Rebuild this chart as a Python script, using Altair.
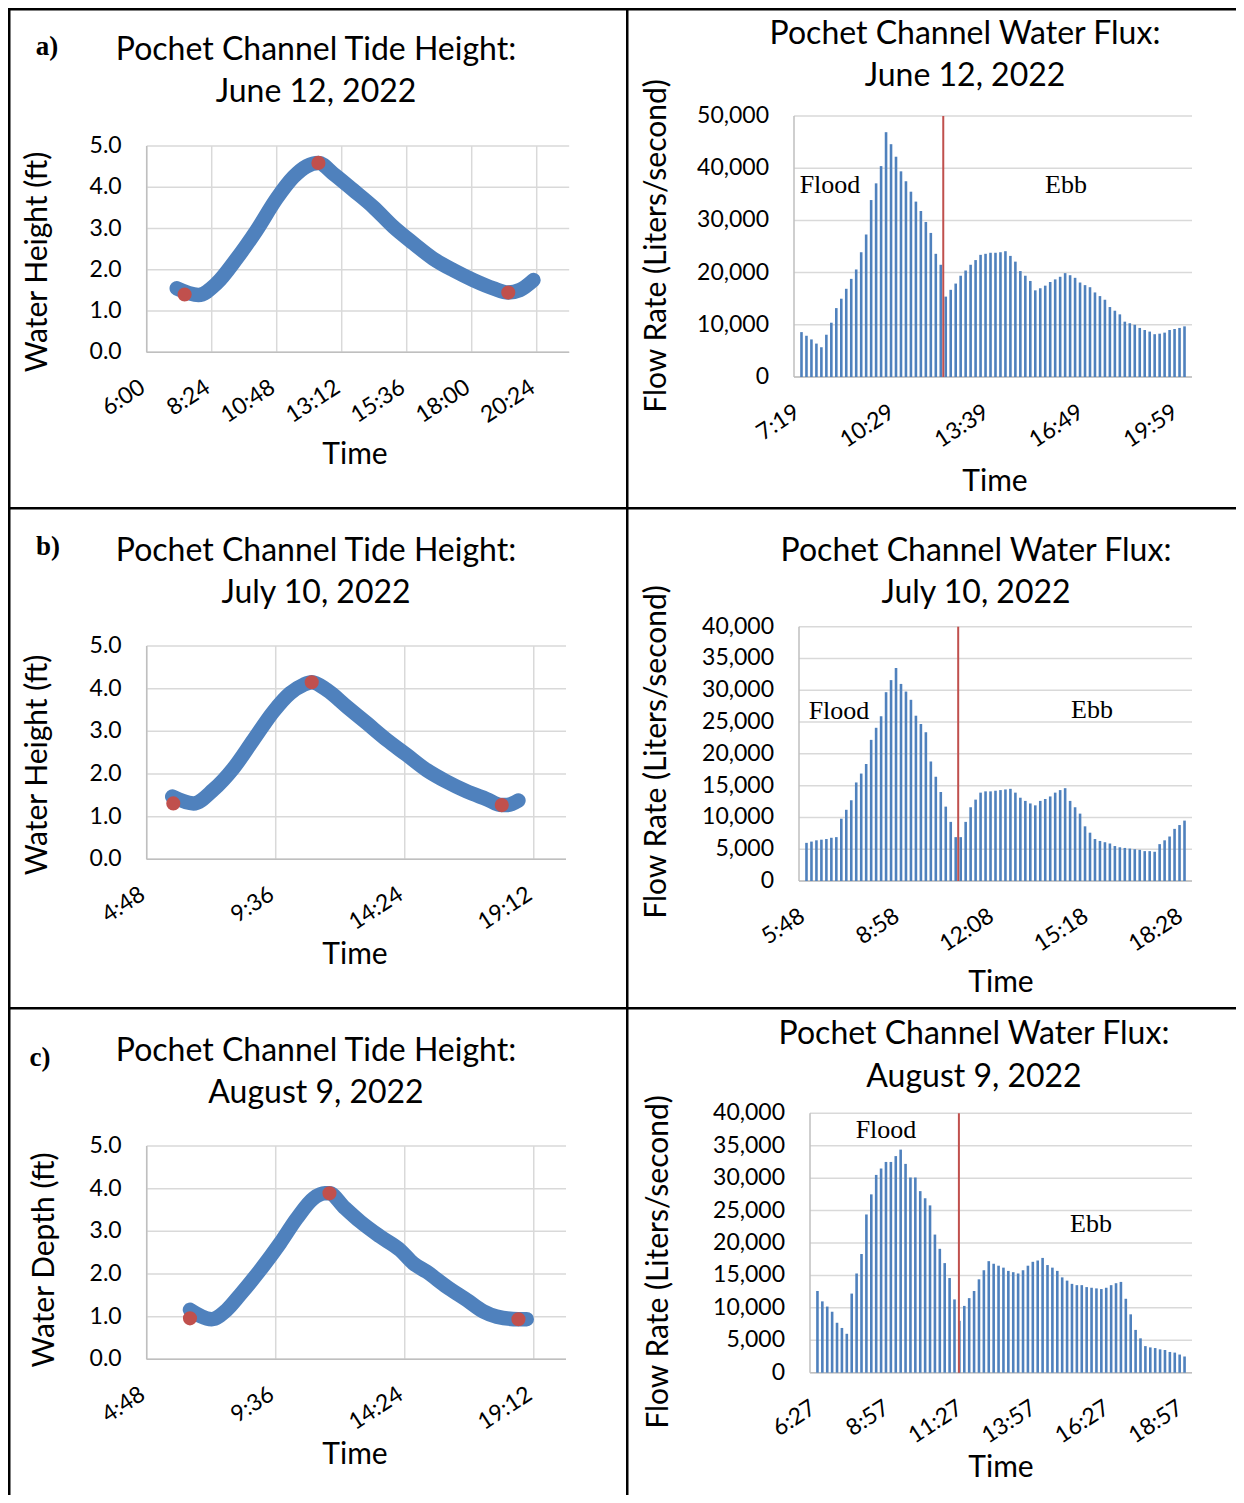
import altair as alt
import pandas as pd

FONT = "Lato"
SERIF = "Liberation Serif"
BLUE = "#4F81BD"
RED = "#C0504D"
GRID = "#D9D9D9"
AXISC = "#BFBFBF"

# ---------------- data ----------------
dates = ["June 12, 2022", "July 10, 2022", "August 9, 2022"]
letters = ["a)", "b)", "c)"]
tide_ytitles = ["Water Height (ft)", "Water Height (ft)", "Water Depth (ft)"]

# tide height (time in decimal hours, height in ft)
tide_a_time = [7.11, 7.91, 8.58, 9.32, 10.06, 10.80, 11.42, 11.91, 12.34, 12.89, 13.63,
               14.37, 15.11, 15.85, 16.58, 17.32, 18.06, 18.80, 19.35, 19.78, 20.28]
tide_a_height = [1.55, 1.39, 1.67, 2.27, 2.96, 3.73, 4.25, 4.51, 4.59, 4.33, 3.93,
                 3.52, 3.04, 2.64, 2.27, 1.99, 1.75, 1.55, 1.45, 1.51, 1.75]
tide_a_ext_time = [7.40, 12.34, 19.35]
tide_a_ext_height = [1.40, 4.59, 1.45]

tide_b_time = [5.75, 6.54, 7.28, 8.02, 8.77, 9.51, 10.13, 10.63, 10.94, 11.50, 12.24,
               12.99, 13.73, 14.47, 15.22, 15.96, 16.71, 17.45, 18.01, 18.19, 18.63]
tide_b_height = [1.47, 1.31, 1.63, 2.13, 2.80, 3.46, 3.89, 4.09, 4.15, 3.97, 3.58,
                 3.19, 2.80, 2.45, 2.09, 1.82, 1.59, 1.41, 1.27, 1.27, 1.38]
tide_b_ext_time = [5.79, 10.94, 18.01]
tide_b_ext_height = [1.31, 4.15, 1.27]

tide_c_time = [6.41, 7.22, 7.78, 8.27, 9.02, 9.76, 10.38, 11.00, 11.43, 11.60, 12.12,
               12.74, 13.48, 14.23, 14.72, 15.22, 15.96, 16.71, 17.33, 17.82, 18.63, 18.94]
tide_c_height = [1.16, 0.94, 1.16, 1.51, 2.09, 2.72, 3.30, 3.77, 3.89, 3.89, 3.58,
                 3.23, 2.88, 2.56, 2.25, 2.05, 1.70, 1.39, 1.12, 1.00, 0.94, 0.94]
tide_c_ext_time = [6.41, 11.60, 18.63]
tide_c_ext_height = [0.96, 3.89, 0.94]

tide_a_ticks = [6.0, 8.4, 10.8, 13.2, 15.6, 18.0, 20.4]
tide_a_labels = ["6:00", "8:24", "10:48", "13:12", "15:36", "18:00", "20:24"]
tide_a_domain = [6.0, 21.6]
tide_bc_ticks = [4.8, 9.6, 14.4, 19.2]
tide_bc_labels = ["4:48", "9:36", "14:24", "19:12"]
tide_bc_domain = [4.8, 20.4]
tide_y_ticks = [0, 1, 2, 3, 4, 5]
tide_y_labels = ["0.0", "1.0", "2.0", "3.0", "4.0", "5.0"]

# water flux (liters / second), one bar per 10-minute interval
flux_a = [8600, 7900, 7200, 6400, 5700, 8100, 10400, 13200, 15000, 16900,
          18800, 20600, 23900, 27300, 33900, 37100, 40400, 46900, 44600, 42200,
          39400, 37500, 35500, 33600, 31800, 29700, 27600, 23600, 21500, 15400,
          16700, 17900, 19400, 20400, 21500, 22400, 23400, 23600, 23800, 23800,
          23900, 24100, 23200, 22100, 20300, 19400, 18400, 16600, 17000, 17500,
          18200, 18700, 19200, 19900, 19500, 19000, 18100, 17600, 17200, 16200,
          15500, 14800, 13400, 12700, 12000, 10600, 10300, 10000, 9400, 9000,
          8700, 8200, 8300, 8500, 9000, 9200, 9400, 9700]
flux_b = [6000, 6200, 6400, 6500, 6600, 6800, 6900, 9800, 11200, 12700,
          15500, 16900, 18400, 22200, 24100, 25900, 29700, 31600, 33500, 31000,
          29800, 28500, 26000, 24700, 23400, 18800, 16400, 14000, 11700, 9300,
          6900, 6900, 9300, 11600, 12800, 13900, 14100, 14100, 14200, 14300,
          14400, 14500, 13900, 13100, 12600, 12200, 11900, 12600, 12900, 13300,
          13900, 14300, 14600, 12600, 11600, 10600, 8600, 7600, 6600, 6300,
          6100, 5900, 5500, 5300, 5200, 5100, 5000, 4900, 4700, 4700,
          4600, 5800, 6400, 7000, 8200, 8800, 9500]
flux_c = [12600, 11000, 10200, 9400, 7700, 6900, 6000, 12200, 15300, 18300,
          24400, 27500, 30500, 31500, 32500, 32500, 33400, 34400, 32200, 30100,
          30100, 28000, 26900, 25800, 21300, 19100, 16900, 14600, 11300, 8000,
          10300, 11500, 12600, 14400, 15800, 17200, 16800, 16500, 16200, 15700,
          15500, 15300, 15800, 16500, 17100, 17300, 17700, 16600, 16200, 15700,
          14700, 14200, 13700, 13500, 13500, 13200, 13100, 13000, 12900, 13100,
          13500, 13800, 14000, 11400, 9000, 6600, 5300, 4100, 3900, 3800,
          3600, 3500, 3200, 3100, 2800, 2500]
flux_split = [28.5, 30.5, 28.9]          # flood / ebb boundary (bar index)
flux_a_yticks = [0, 10000, 20000, 30000, 40000, 50000]
flux_a_ylabels = ["0", "10,000", "20,000", "30,000", "40,000", "50,000"]
flux_bc_yticks = [0, 5000, 10000, 15000, 20000, 25000, 30000, 35000, 40000]
flux_bc_ylabels = ["0", "5,000", "10,000", "15,000", "20,000", "25,000", "30,000", "35,000", "40,000"]
flux_a_ticks = [0, 19, 38, 57, 76]
flux_a_labels = ["7:19", "10:29", "13:39", "16:49", "19:59"]
flux_b_ticks = [0, 19, 38, 57, 76]
flux_b_labels = ["5:48", "8:58", "12:08", "15:18", "18:28"]
flux_c_ticks = [0, 15, 30, 45, 60, 75]
flux_c_labels = ["6:27", "8:57", "11:27", "13:57", "16:27", "18:57"]

# ---------------- layout (pixels, cell-local) ----------------
COLW = [618, 610]
ROWH = [499, 500, 488]
LEFT_LAYOUT = [
    dict(x0=138.7, x1=561.2, yb=344.3, yt=138, letter=(39, 39), tx=308, ty=(42, 84), yt_xy=(30, 254), xt_xy=(347, 447)),
    dict(x0=138.7, x1=558.0, yb=352.3, yt=139, letter=(40, 40), tx=308, ty=(44, 86), yt_xy=(30, 258), xt_xy=(347, 448)),
    dict(x0=138.7, x1=558.0, yb=352.3, yt=139, letter=(32, 51), tx=308, ty=(44, 86), yt_xy=(37, 253), xt_xy=(347, 448)),
]
RIGHT_LAYOUT = [
    dict(x0=168, x1=566, yb=369.0, yt=108.0, tx=339, ty=(26, 68), yt_xy=(31, 238), xt_xy=(369, 474), flood=(204, 177), ebb=(440, 177)),
    dict(x0=173, x1=566, yb=374.0, yt=119.7, tx=350, ty=(44, 86), yt_xy=(31, 245), xt_xy=(375, 476), flood=(213, 204), ebb=(466, 203)),
    dict(x0=184, x1=566, yb=365.7, yt=106.3, tx=348, ty=(27, 70), yt_xy=(33, 255), xt_xy=(375, 461), flood=(260, 123), ebb=(465, 217)),
]
TICK_FS, TITLE_FS, AXT_FS = 23, 32, 30
XLAB_PAD, YLAB_PAD, XLAB_ANGLE = 39, 25, 327

ONE = pd.DataFrame({"k": [0]})


def text(txt, x, y, size, font=FONT, weight="normal", angle=0):
    return alt.Chart(ONE).mark_text(
        font=font, fontSize=size, fontWeight=weight, align="center",
        baseline="middle", color="black", angle=angle
    ).encode(x=alt.value(x), y=alt.value(y), text=alt.value(txt))


def frame(W, H):
    extent = alt.Chart(ONE).mark_rect(opacity=0).encode(
        x=alt.value(0), x2=alt.value(W), y=alt.value(0), y2=alt.value(H))
    left = alt.Chart(ONE).mark_rect(color="black").encode(
        x=alt.value(0), x2=alt.value(2.5), y=alt.value(0), y2=alt.value(H))
    top = alt.Chart(ONE).mark_rect(color="black").encode(
        x=alt.value(0), x2=alt.value(W), y=alt.value(0), y2=alt.value(2.5))
    return [extent, left, top]


def axes(L, xs, ys, xticks, xlabels, yticks, ylabels, ytitle, xgrid):
    layers = []
    ydf = pd.DataFrame({"v": yticks, "lab": ylabels})
    xdf = pd.DataFrame({"v": xticks, "lab": xlabels})
    layers.append(alt.Chart(ydf).mark_rule(color=GRID, strokeWidth=1.5).encode(
        y=alt.Y("v:Q", scale=ys, axis=None), x=alt.value(L["x0"]), x2=alt.value(L["x1"])))
    if xgrid:
        layers.append(alt.Chart(xdf).mark_rule(color=GRID, strokeWidth=1.5).encode(
            x=alt.X("v:Q", scale=xs, axis=None), y=alt.value(L["yt"]), y2=alt.value(L["yb"])))
    layers.append(alt.Chart(ONE).mark_rule(color=AXISC, strokeWidth=1.5).encode(
        x=alt.value(L["x0"]), y=alt.value(L["yt"]), y2=alt.value(L["yb"])))
    layers.append(alt.Chart(ONE).mark_rule(color=AXISC, strokeWidth=1.5).encode(
        y=alt.value(L["yb"]), x=alt.value(L["x0"]), x2=alt.value(L["x1"])))
    layers.append(alt.Chart(ydf).mark_text(
        font=FONT, fontSize=TICK_FS, align="right", baseline="middle", color="black"
    ).encode(y=alt.Y("v:Q", scale=ys, axis=None), x=alt.value(L["x0"] - YLAB_PAD), text="lab:N"))
    layers.append(alt.Chart(xdf).mark_text(
        font=FONT, fontSize=TICK_FS, align="right", baseline="alphabetic", color="black",
        angle=XLAB_ANGLE
    ).encode(x=alt.X("v:Q", scale=xs, axis=None), y=alt.value(L["yb"] + XLAB_PAD), text="lab:N"))
    layers.append(text("Time", L["xt_xy"][0], L["xt_xy"][1], AXT_FS))
    layers.append(text(ytitle, L["yt_xy"][0], L["yt_xy"][1], AXT_FS, angle=270))
    return layers


def tide_panel(i, t, h, et, eh, dom, ticks, labels):
    L = LEFT_LAYOUT[i]
    W, H = COLW[0], ROWH[i]
    xs = alt.Scale(domain=dom, range=[L["x0"], L["x1"]], nice=False, zero=False)
    ys = alt.Scale(domain=[0, 5], range=[L["yb"], L["yt"]], nice=False, zero=False)
    df = pd.DataFrame({"t": t, "h": h})
    ext = pd.DataFrame({"t": et, "h": eh})

    line = alt.Chart(df).mark_line(
        color=BLUE, strokeWidth=14.5, strokeCap="round", strokeJoin="round",
        interpolate="monotone"
    ).encode(x=alt.X("t:Q", scale=xs, axis=None), y=alt.Y("h:Q", scale=ys, axis=None))
    pts = alt.Chart(ext).mark_circle(color=RED, size=200, opacity=1).encode(
        x=alt.X("t:Q", scale=xs, axis=None), y=alt.Y("h:Q", scale=ys, axis=None))
    layers = frame(W, H) + axes(L, xs, ys, ticks, labels, tide_y_ticks, tide_y_labels,
                                tide_ytitles[i], True) + [
        line, pts,
        text(letters[i], L["letter"][0], L["letter"][1], 27, font=SERIF, weight="bold"),
        text("Pochet Channel Tide Height:", L["tx"], L["ty"][0], TITLE_FS),
        text(dates[i], L["tx"], L["ty"][1], TITLE_FS)]
    return alt.layer(*layers).properties(width=W, height=H)


def flux_panel(i, vals, ticks, labels, yticks, ylabels):
    L = RIGHT_LAYOUT[i]
    W, H = COLW[1], ROWH[i]
    n = len(vals)
    ymax = yticks[-1]
    xs = alt.Scale(domain=[-0.5, n - 0.5], range=[L["x0"], L["x1"]], nice=False, zero=False)
    ys = alt.Scale(domain=[0, ymax], range=[L["yb"], L["yt"]], nice=False, zero=False)
    df = pd.DataFrame({"i": list(range(n)), "q": vals})
    split_df = pd.DataFrame({"s": [flux_split[i]], "lo": [0], "hi": [ymax]})

    bars = alt.Chart(df).mark_bar(size=2.6, color=BLUE).encode(
        x=alt.X("i:Q", scale=xs, axis=None), y=alt.Y("q:Q", scale=ys, axis=None))
    split = alt.Chart(split_df).mark_rule(color=RED, strokeWidth=2).encode(
        x=alt.X("s:Q", scale=xs, axis=None),
        y=alt.Y("lo:Q", scale=ys, axis=None), y2="hi:Q")
    layers = frame(W, H) + axes(L, xs, ys, ticks, labels, yticks, ylabels,
                                "Flow Rate (Liters/second)", False) + [
        bars, split,
        text("Flood", L["flood"][0], L["flood"][1], 26, font=SERIF),
        text("Ebb", L["ebb"][0], L["ebb"][1], 26, font=SERIF),
        text("Pochet Channel Water Flux:", L["tx"], L["ty"][0], TITLE_FS),
        text(dates[i], L["tx"], L["ty"][1], TITLE_FS)]
    return alt.layer(*layers).properties(width=W, height=H)


a_left = tide_panel(0, tide_a_time, tide_a_height, tide_a_ext_time, tide_a_ext_height,
                    tide_a_domain, tide_a_ticks, tide_a_labels)
b_left = tide_panel(1, tide_b_time, tide_b_height, tide_b_ext_time, tide_b_ext_height,
                    tide_bc_domain, tide_bc_ticks, tide_bc_labels)
c_left = tide_panel(2, tide_c_time, tide_c_height, tide_c_ext_time, tide_c_ext_height,
                    tide_bc_domain, tide_bc_ticks, tide_bc_labels)
a_right = flux_panel(0, flux_a, flux_a_ticks, flux_a_labels, flux_a_yticks, flux_a_ylabels)
b_right = flux_panel(1, flux_b, flux_b_ticks, flux_b_labels, flux_bc_yticks, flux_bc_ylabels)
c_right = flux_panel(2, flux_c, flux_c_ticks, flux_c_labels, flux_bc_yticks, flux_bc_ylabels)

chart = alt.vconcat(
    alt.hconcat(a_left, a_right, spacing=0),
    alt.hconcat(b_left, b_right, spacing=0),
    alt.hconcat(c_left, c_right, spacing=0),
    spacing=0,
).properties(padding=0).configure_view(strokeWidth=0).configure_concat(spacing=0)

chart.save("out.html", embed_options={"renderer": "svg", "actions": False})
